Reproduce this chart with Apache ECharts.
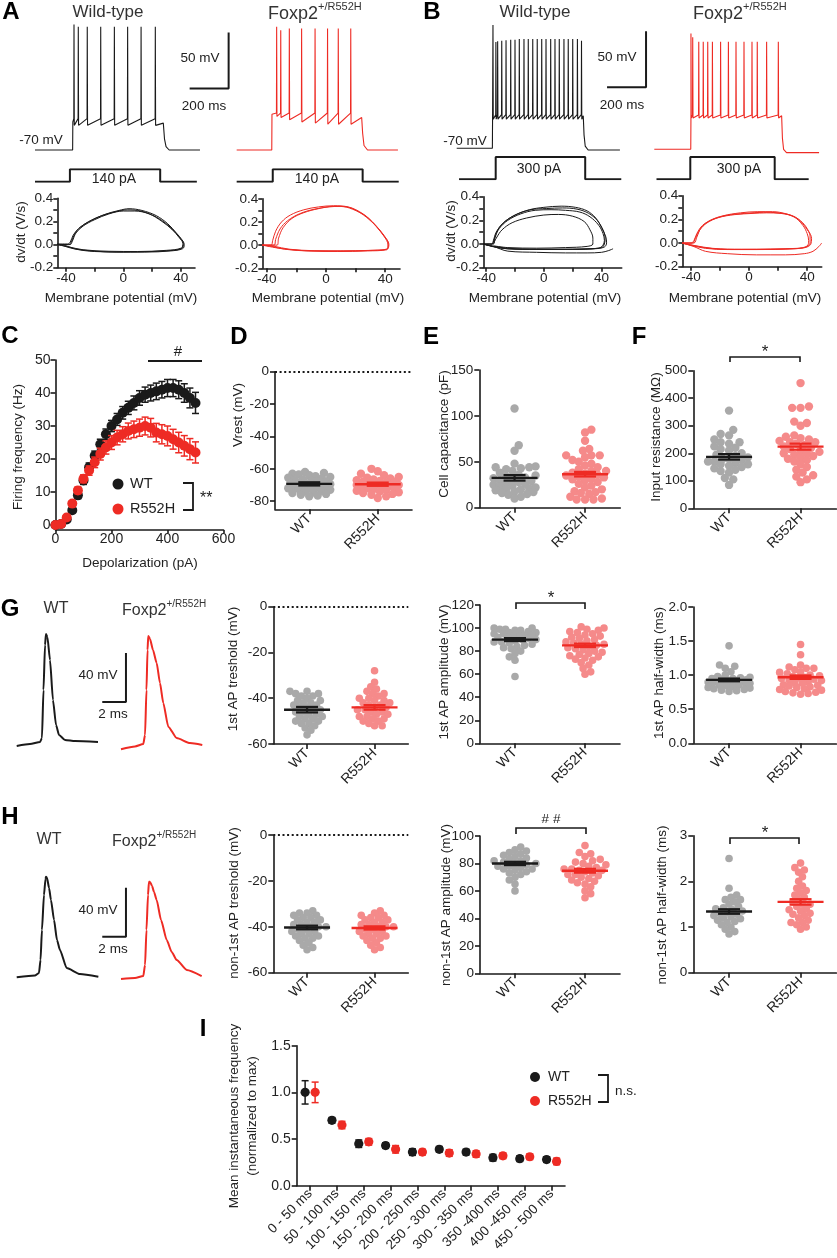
<!DOCTYPE html>
<html><head><meta charset="utf-8">
<script src="https://cdn.jsdelivr.net/npm/echarts@6/dist/echarts.min.js"></script>
<style>html,body{margin:0;padding:0;background:#fff}#c{width:837px;height:1258px}</style>
</head><body><div id="c"></div><script>
// ================= DATA =================
// A / B voltage traces (ms, mV)
const aWtSpikes = [200,222,268,337,407,475,544,617];
const aWtPeaks  = [42,40,40,40,40,40,40,40];
const aWtTroughs= [-48,-48,-48,-48,-48,-48,-48,-48];
const aRdSpikes = [210,231,275,338,407,471,526,590];
const aRdPeaks  = [40,37,38.5,38.5,38.5,38.5,38.5,38.5];
const aRdTroughs= [-40,-41,-43,-45,-46,-47,-47,-47];
const bWtSpikes = [186,201,210,231,253,277,299,321,345,367,390,413,436,458,482,504,526,550,572,595,619,640];
const bWtPeaks  = [40,25,25.5,26,26.5,27,27,27.5,27.5,27.5,27.5,27.5,27.5,27.5,27.5,27.5,27.5,27.5,27.5,27.5,27.5,26];
const bWtTroughs= [-44,-44,-44,-44,-44,-44,-44,-44,-44,-44,-44,-44,-44,-44,-44,-44,-44,-44,-44,-44,-44,-44];
const bRdSpikes = [188,197,228,251,274,298,340,380,419,460,501,528,576,636];
const bRdPeaks  = [33.5,30,26,26,26,26,26,26,26,26,26,26,26,26];
const bRdTroughs= [-42,-42,-42,-42,-42,-42,-42,-42,-42,-42,-42,-42,-42,-42];
// trace levels: [start, stepOn, stepOff, end, rest, plateau, preSpike, endLevel]
const aWtLevels = [0,193,658,846,-70,-45,-42,-46];
const aRdLevels = [5,185,646,832,-70,-38,-37,-41];
const bWtLevels = [0,183,649,837,-70,-40,-40,-41];
const bRdLevels = [0,187,653,845,-70,-39,-39.4,-40];
const aWtDecay = [[6,-60],[14,-67],[30,-70]];
const aRdDecay = [[5,-55],[12,-66],[30,-70]];
const bWtDecay = [[4,-58],[10,-68],[25,-71.5]];
const bRdDecay = [[4,-60],[10,-70],[25,-73]];
// current step: [start, on, off, end]
const aWtStim = [0,179,642,830];
const aRdStim = [5,190,651,836];
const bWtStim = [12,200,659,844];
const bRdStim = [12,197,659,845];
// phase plots [mV, V/s]
const aWtLoops = [
 [[-46,0.005],[-39,0.005],[-37,0.02],[-35,0.08],[-31,0.14],[-24,0.2],[-15,0.25],[-5,0.285],[3,0.3],[12,0.29],[22,0.245],[30,0.18],[36,0.11],[40,0.05],[42,0.01],[41,-0.03],[35,-0.05],[20,-0.06],[0,-0.065],[-20,-0.06],[-33,-0.04],[-40,-0.01],[-46,0.005]],
 [[-46,0],[-38,0],[-36,0.03],[-34,0.09],[-30,0.15],[-22,0.21],[-13,0.26],[-3,0.295],[4,0.31],[13,0.295],[23,0.25],[31,0.18],[37,0.1],[41,0.04],[42.5,0],[41.5,-0.035],[33,-0.055],[15,-0.065],[-5,-0.065],[-22,-0.055],[-35,-0.035],[-42,-0.01],[-46,0]],
 [[-46,0],[-37,0],[-35.5,0.03],[-33,0.1],[-28,0.16],[-20,0.215],[-10,0.265],[0,0.29],[8,0.29],[18,0.265],[27,0.2],[34,0.13],[39,0.06],[41.5,0.01],[40.5,-0.03],[30,-0.05],[10,-0.06],[-10,-0.058],[-28,-0.045],[-38,-0.02],[-46,0]]
];
const aRdLoops = [
 [[-43,0],[-37,0],[-36,0.04],[-34,0.12],[-30,0.2],[-24,0.26],[-15,0.305],[-5,0.33],[5,0.34],[15,0.33],[25,0.27],[33,0.18],[38,0.1],[41,0.04],[42,0],[41,-0.035],[30,-0.045],[10,-0.05],[-10,-0.05],[-28,-0.035],[-37,-0.01],[-43,0]],
 [[-43,0],[-35,0],[-34,0.05],[-31,0.14],[-26,0.21],[-18,0.27],[-8,0.31],[2,0.33],[10,0.335],[18,0.31],[27,0.25],[34,0.16],[39,0.08],[42,0.02],[41.5,-0.03],[32,-0.045],[12,-0.05],[-8,-0.048],[-25,-0.035],[-35,-0.01],[-43,0]],
 [[-43,0],[-33,0],[-32,0.06],[-29,0.15],[-23,0.23],[-15,0.28],[-5,0.315],[5,0.335],[14,0.33],[23,0.28],[31,0.2],[37,0.12],[41,0.05],[42.5,0.005],[41,-0.04],[28,-0.05],[8,-0.055],[-12,-0.05],[-30,-0.03],[-43,0]]
];
const bWtLoops = [
 [[-42,0],[-36,0],[-35,0.03],[-33,0.1],[-28,0.18],[-20,0.245],[-10,0.29],[0,0.31],[12,0.32],[22,0.31],[30,0.28],[36,0.22],[40,0.14],[43,0.06],[43.5,0.01],[42,-0.025],[35,-0.04],[15,-0.045],[-5,-0.045],[-25,-0.04],[-35,-0.02],[-42,0]],
 [[-42,0],[-36,0],[-34.5,0.04],[-32,0.12],[-27,0.19],[-19,0.25],[-9,0.29],[2,0.3],[13,0.305],[23,0.295],[31,0.26],[37,0.2],[41,0.12],[42.5,0.05],[42,0],[40,-0.03],[30,-0.04],[10,-0.045],[-10,-0.045],[-30,-0.035],[-42,0]],
 [[-42,0],[-35,0],[-34,0.05],[-31,0.13],[-25,0.2],[-16,0.255],[-6,0.285],[5,0.29],[15,0.285],[25,0.27],[32,0.23],[38,0.16],[41,0.09],[42,0.03],[41,-0.01],[38,-0.035],[20,-0.045],[0,-0.045],[-20,-0.04],[-35,-0.02],[-42,0]],
 [[-35,0],[-33,0.05],[-29,0.12],[-22,0.18],[-12,0.22],[0,0.245],[10,0.25],[20,0.235],[28,0.19],[32,0.12],[34,0.05],[34,0],[30,-0.02],[15,-0.03],[-5,-0.035],[-25,-0.03],[-35,-0.015]],
 [[-42,0],[-35,-0.02],[-25,-0.06],[-5,-0.07],[15,-0.075],[30,-0.075],[40,-0.07],[45,-0.055],[48,-0.04]]
];
const bRdLoops = [
 [[-46,0],[-40,0],[-38,0.02],[-36,0.08],[-32,0.15],[-25,0.2],[-15,0.235],[-3,0.25],[10,0.26],[20,0.255],[30,0.23],[37,0.17],[41,0.1],[43,0.04],[42.5,-0.01],[38,-0.04],[25,-0.05],[5,-0.055],[-15,-0.055],[-30,-0.045],[-40,-0.02],[-46,0]],
 [[-46,0],[-39,0],[-37,0.04],[-34,0.11],[-29,0.17],[-21,0.215],[-10,0.24],[2,0.25],[12,0.255],[22,0.25],[31,0.22],[37,0.15],[40,0.08],[41,0.02],[40,-0.025],[33,-0.045],[15,-0.05],[-5,-0.052],[-25,-0.045],[-38,-0.02],[-46,0]],
 [[-46,0],[-38,0],[-36,0.05],[-33,0.13],[-27,0.19],[-18,0.23],[-6,0.255],[6,0.265],[16,0.265],[26,0.245],[34,0.2],[39,0.13],[42,0.06],[42,0],[39,-0.035],[28,-0.05],[8,-0.055],[-12,-0.055],[-30,-0.04],[-46,0]],
 [[-46,0],[-38,-0.03],[-30,-0.07],[-15,-0.09],[5,-0.1],[25,-0.1],[38,-0.09],[44,-0.07],[48,-0.03],[50,0]]
];
// C: firing frequency
const cDepol = [0,20,40,60,80,100,120,140,160,180,200,220,240,260,280,300,320,340,360,380,400,420,440,460,480,500];
const cWt    = [0,0.3,1.7,4.5,9,13.5,17.5,21,24.5,27.5,30,32,34,35.5,37,38.5,39.5,40,40.5,41,41.5,41.5,41,40,38.5,37];
const cWtErr = [0,0.2,0.4,0.7,1,1.2,1.3,1.4,1.5,1.6,1.7,1.8,1.9,2,2.1,2.2,2.3,2.4,2.5,2.5,2.6,2.6,2.7,2.8,3,3.2];
const cRd    = [0,0.3,2.3,6.5,10.5,14,16.5,19,21.5,23.5,25,26.5,27.5,28.5,29,29.5,30,29.5,28,27.5,27,26,25,24,23,22];
const cRdErr = [0,0.2,0.5,0.8,1,1.2,1.4,1.6,1.8,2,2.1,2.2,2.3,2.4,2.5,2.6,2.7,2.8,2.8,2.9,3,3,3.1,3.1,3.2,3.2];
// individual cells
const groups = ['WT','R552H'];
const dWt = [-62,-62.5,-63,-63.5,-64,-64.5,-65,-65.5,-66,-66.5,-67,-67.5,-68,-68,-68.5,-69,-69,-69.5,-70,-70,-70.5,-71,-71,-71.5,-72,-72,-72.5,-73,-73.5,-74,-74.5,-75,-75.5,-76,-76.5,-77];
const dRd = [-60,-61.5,-63,-64,-65,-65.5,-66,-66.5,-67,-67.5,-68,-68,-68.5,-69,-69.5,-70,-70,-70.5,-71,-71.5,-72,-72,-72.5,-73,-73.5,-74,-74.5,-75,-75.5,-76,-77,-78];
const eWt = [108,68,62,48,45,44,44,43,42,40,38,36,35,34,33,32,31,30,29,28,27,26,25,24,23,22,21,20,20,19,18,17,16,15,14,12,10];
const eRd = [85,82,73,64,62,57,57,57,55,52,50,48,46,44,42,40,40,38,37,36,35,34,33,32,31,30,28,26,24,22,20,18,17,16,15,12,10,9,9,9];
const fWt = [355,285,270,265,250,240,240,235,225,220,215,210,200,195,190,185,180,180,175,170,170,165,160,160,155,150,145,140,135,130,110,105,85];
const fRd = [455,370,365,365,315,310,300,265,260,255,250,245,240,240,235,230,225,220,215,210,205,200,200,195,190,185,180,175,170,160,150,140,130,120,115,105,95];
const gThrWt = [-37,-37,-38,-38,-39,-39,-40,-41,-41,-42,-42,-43,-43,-44,-44,-45,-45,-46,-46,-47,-47,-48,-48,-49,-49,-50,-50,-51,-51,-52,-53,-54,-56];
const gThrRd = [-28,-33,-35,-36,-37,-38,-38,-39,-40,-40,-41,-41,-42,-42,-43,-43,-44,-44,-45,-45,-46,-46,-47,-47,-48,-48,-49,-49,-50,-50,-51,-52,-52];
const gAmpWt = [100,100,99,99,98,98,97,96,96,95,95,94,94,93,93,92,92,91,90,90,89,88,88,87,86,85,84,83,82,80,78,75,72,58];
const gAmpRd = [101,100,99,98,97,96,95,94,93,92,91,90,89,88,87,86,86,85,84,83,82,81,80,79,78,77,76,75,74,73,72,70,68,65,62,60];
const gHwWt = [1.43,1.15,1.13,1.1,1.05,1.0,0.98,0.97,0.96,0.95,0.95,0.94,0.93,0.92,0.92,0.91,0.9,0.9,0.89,0.88,0.88,0.87,0.86,0.85,0.85,0.84,0.83,0.82,0.81,0.8,0.79,0.78,0.77,0.76];
const gHwRd = [1.45,1.3,1.15,1.12,1.1,1.1,1.08,1.05,1.04,1.02,1.0,0.99,0.98,0.97,0.96,0.95,0.94,0.93,0.92,0.9,0.89,0.88,0.86,0.85,0.84,0.83,0.82,0.8,0.79,0.78,0.76,0.75,0.74,0.73,0.72];
const hThrWt = [-33,-34,-34,-35,-35,-36,-36,-37,-37,-38,-38,-39,-39,-40,-40,-40,-41,-41,-42,-42,-43,-43,-44,-44,-45,-45,-46,-47,-48,-49,-50];
const hThrRd = [-33,-34,-35,-35,-36,-36,-37,-37,-38,-38,-39,-39,-40,-40,-40,-41,-41,-42,-42,-43,-43,-44,-44,-45,-45,-46,-47,-48,-49,-50];
const hAmpWt = [92,90,89,88,87,86,85,84,83,82,82,81,80,80,79,78,78,77,76,76,75,74,73,72,70,68,65,60];
const hAmpRd = [93,88,87,85,83,82,81,80,79,78,77,76,76,75,75,74,73,72,72,71,70,69,68,67,66,65,63,60,58,55];
const hHwWt = [2.5,1.85,1.7,1.65,1.6,1.6,1.55,1.5,1.45,1.42,1.4,1.38,1.35,1.32,1.3,1.28,1.25,1.22,1.2,1.18,1.15,1.12,1.1,1.05,1.0,0.95,0.9,0.85];
const hHwRd = [2.4,2.3,2.25,2.2,2.1,2.0,1.9,1.85,1.8,1.75,1.7,1.65,1.6,1.55,1.5,1.5,1.45,1.4,1.38,1.35,1.3,1.28,1.25,1.2,1.15,1.1,1.1,1.05,1.0,0.95];
// mean, SEM [WT, R552H]
const dMean=[-69.3,-69.5], dSem=[1,1];
const eMean=[32.5,36.5], eSem=[3,2.5];
const fMean=[187,224], fSem=[10,11];
const gThrMean=[-45,-44], gThrSem=[1.2,1];
const gAmpMean=[90,85], gAmpSem=[1.3,1.5];
const gHwMean=[0.93,0.97], gHwSem=[0.02,0.025];
const hThrMean=[-40.3,-40.5], hThrSem=[0.8,0.7];
const hAmpMean=[80,74.7], hAmpSem=[1.2,1.4];
const hHwMean=[1.34,1.55], hHwSem=[0.05,0.06];
// G / H single action potentials [ms, mV]
const gWtAP = [[1.41,-60],[2.53,-58.4],[3.38,-56.7],[3.54,-53.5],[3.67,-14.3],[3.80,22.4],[3.88,31.4],[4.0,29],[4.22,10.2],[4.47,-22.4],[4.73,-42.9],[4.98,-51],[5.49,-55.1],[6.33,-56],[8.27,-56.7]];
const gRdAP = [[10.21,-62.7],[11.39,-60.4],[12.09,-58.4],[12.24,-51],[12.36,-14.3],[12.45,18.4],[12.51,29.8],[12.66,27.3],[12.91,18.4],[13.22,7.8],[13.5,-8.6],[13.78,-24.9],[14.2,-44.2],[14.91,-53.5],[16.03,-57.6],[17.07,-59.2]];
const hWtAP = [[1.41,-60.2],[2.95,-58.8],[3.29,-56.7],[3.42,-46.1],[3.54,-21.6],[3.71,6.9],[3.84,20],[3.88,21.9],[3.97,20.8],[4.14,12.7],[4.30,2.9],[4.56,-13.5],[4.81,-29.8],[5.06,-38],[5.63,-52.7],[6.75,-57.6],[8.30,-59.8]];
const hRdAP = [[10.21,-61.6],[11.39,-60.8],[12.09,-59.2],[12.24,-50.2],[12.36,-21.6],[12.49,6.9],[12.57,17.8],[12.66,17.6],[12.83,14.3],[13.0,9.4],[13.22,2.9],[13.59,-13.5],[14.07,-29.8],[14.49,-39.6],[14.91,-46.1],[15.76,-54.3],[17.02,-59.2]];
// I: instantaneous frequency
const iBins = ['0 - 50 ms','50 - 100 ms','100 - 150 ms','150 - 200 ms','200 - 250 ms','250 - 300 ms','300 - 350 ms','350 -400 ms','400 -450 ms','450 - 500 ms'];
const iWt    = [1.0,0.70,0.45,0.43,0.36,0.39,0.36,0.30,0.29,0.28];
const iWtErr = [0.125,0.03,0.04,0.03,0.035,0.03,0.03,0.035,0.03,0.03];
const iRd    = [1.0,0.65,0.47,0.39,0.36,0.35,0.34,0.32,0.31,0.26];
const iRdErr = [0.11,0.04,0.035,0.04,0.03,0.035,0.035,0.03,0.03,0.035];

// ================= STYLE / LAYOUT =================
const F = '"Liberation Sans", Arial, Helvetica, sans-serif';
const INK = '#1a1a1a', RED = '#ee2b24', GRAY = '#a9a9a9', PINK = '#f58a8a', TXT = '#222222';
const grids = [], xAxes = [], yAxes = [], series = [], G = [];
const axLine = {show:true, onZero:false, lineStyle:{color:INK, width:1.6}};
const axTick = (len) => ({show:true, inside:false, length:len||5, alignWithLabel:true, lineStyle:{color:INK, width:1.6}});
const lab = (fs, m) => ({color:TXT, fontFamily:F, fontSize:fs, margin:(m==null?6:m)});
function panel(r, xa, ya) {
  const i = grids.length;
  grids.push({left:r[0], top:r[1], width:r[2], height:r[3], containLabel:false});
  xAxes.push(Object.assign({gridIndex:i, splitLine:{show:false}}, xa));
  yAxes.push(Object.assign({gridIndex:i, splitLine:{show:false}}, ya));
  return i;
}
const hid = (min, max) => ({type:'value', min, max, show:false});
function lineS(gi, data, color, w, extra) {
  series.push(Object.assign({type:'line', xAxisIndex:gi, yAxisIndex:gi, data, symbol:'none', showSymbol:false,
    silent:true, lineStyle:{color, width:w}, z:5}, extra||{}));
}
function txt(x, y, text, o) {
  o = o || {};
  G.push({type:'text', x, y, rotation:o.rot||0, silent:true, z:100,
    style:{text, fill:o.color||TXT, font:(o.weight||'normal')+' '+(o.size||13.5)+'px '+F,
      align:o.align||'center', verticalAlign:o.va||'middle', rich:o.rich}});
}
function pl(points, w, color) { G.push({type:'polyline', silent:true, z:100, shape:{points}, style:{stroke:color||INK, lineWidth:w||1.7, fill:null}}); }
function dot(x, y, r, c) { G.push({type:'circle', silent:true, z:100, shape:{cx:x, cy:y, r}, style:{fill:c}}); }
function supTitle(x, y, size, sup) {
  txt(x, y, '{a|Foxp2}{b|+/R552H}', {align:'left', rich:{
    a:{fontSize:size, fontFamily:F, fill:'#333', lineHeight:size+4, verticalAlign:'bottom'},
    b:{fontSize:sup, fontFamily:F, fill:'#333', lineHeight:sup, verticalAlign:'top'}}});
}

// ---- spike trains ----
function train(lv, spikes, peaks, troughs, decay) {
  const [t0, on, off, t1, rest, plateau, pre, endLv] = lv;
  const pts = [[t0, rest], [on, rest], [on + 1, plateau]];
  spikes.forEach((t, k) => { pts.push([t - 1, pre], [t, peaks[k]], [t + 1.5, troughs[k]]); });
  pts.push([off, endLv]);
  decay.forEach(d => pts.push([off + d[0], d[1]]));
  pts.push([t1, decay[decay.length - 1][1]]);
  return pts;
}
function stim(s) { return [[s[0],0],[s[1],0],[s[1],1],[s[2],1],[s[2],0],[s[3],0]]; }
function tracePanel(left, top, xmax, lv, sp, pk, tr, dc, color, scale) {
  const gi = panel([left, top, xmax * 0.195, 145.6], hid(0, xmax), hid(-80, 50));
  lineS(gi, train(lv, sp, pk, tr, dc), color, 1.1);
  if (scale) lineS(gi, [[scale[0] - scale[2], scale[1]], [scale[0], scale[1]], [scale[0], scale[1] + scale[3]]], INK, 2);
}
function stimPanel(left, top, h, s) {
  const gi = panel([left, top, 195, h], hid(0, 1000), hid(0, 1));
  lineS(gi, stim(s), INK, 2);
}
// scale bar: [x, y, 200 ms, 50 mV]
tracePanel(35, 15.6, 1000, aWtLevels, aWtSpikes, aWtPeaks, aWtTroughs, aWtDecay, INK, [993, -15, 200, 50]);
tracePanel(235.7, 15.6, 1000, aRdLevels, aRdSpikes, aRdPeaks, aRdTroughs, aRdDecay, RED);
tracePanel(456.7, 13.9, 1000, bWtLevels, bWtSpikes, bWtPeaks, bWtTroughs, bWtDecay, INK, [971, -15.5, 200, 50]);
tracePanel(654.3, 14.9, 900, bRdLevels, bRdSpikes, bRdPeaks, bRdTroughs, bRdDecay, RED);
stimPanel(35, 169.3, 12.4, aWtStim);
stimPanel(235.7, 169.3, 12.4, aRdStim);
stimPanel(456.7, 157, 22.3, bWtStim);
stimPanel(654.3, 157, 22.3, bRdStim);

// ---- phase plots ----
function phasePanel(r, xmin, xmax, loops, color) {
  const gi = panel(r,
    {type:'value', min:xmin, max:xmax, axisLine:axLine,
     axisTick:Object.assign(axTick(4), {customValues:[-40,-20,0,20,40]}),
     axisLabel:Object.assign(lab(13.5, 4), {customValues:[-40,0,40]})},
    {type:'value', min:-0.2, max:0.4, interval:0.1, axisLine:axLine, axisTick:axTick(4),
     axisLabel:Object.assign(lab(13.5, 4), {formatter: v => (Math.round(v * 10) % 2 ? '' : v.toFixed(1))})});
  loops.forEach(L => lineS(gi, L, color, 1, {smooth:0.35}));
}
phasePanel([57.3, 198.3, 137.7, 69.4], -46, 50, aWtLoops, INK);
phasePanel([262.3, 198.8, 137.7, 69.5], -43, 50, aRdLoops, RED);
phasePanel([483.3, 196.7, 138.4, 71], -42, 54, bWtLoops, INK);
phasePanel([682.3, 195.7, 139.4, 71], -46, 50, bRdLoops, RED);

// ---- C ----
function errSeries(gi, xs, ys, es, color, dx, r, cap) {
  return {type:'custom', xAxisIndex:gi, yAxisIndex:gi, silent:true, z:4,
    data: xs.map((x, i) => [x, ys[i], es[i]]),
    renderItem(params, api) {
      const x = api.value(0), y = api.value(1), e = api.value(2);
      const p = api.coord([x, y]), hi = api.coord([x, y + e]), lo = api.coord([x, y - e]);
      const cx = p[0] + dx, st = {stroke:color, lineWidth:1.5};
      return {type:'group', children:[
        {type:'line', shape:{x1:cx, y1:hi[1], x2:cx, y2:lo[1]}, style:st},
        {type:'line', shape:{x1:cx - cap, y1:hi[1], x2:cx + cap, y2:hi[1]}, style:st},
        {type:'line', shape:{x1:cx - cap, y1:lo[1], x2:cx + cap, y2:lo[1]}, style:st},
        {type:'circle', shape:{cx, cy:p[1], r}, style:{fill:color}}]};
    }};
}
{
  const gi = panel([55.5, 360, 168, 170],
    {type:'value', min:0, max:600, interval:200, axisLine:axLine, axisTick:axTick(3), axisLabel:lab(14, 2)},
    {type:'value', min:-1.5, max:50, axisLine:axLine,
     axisTick:Object.assign(axTick(5), {customValues:[0,10,20,30,40,50]}),
     axisLabel:Object.assign(lab(14, 5), {customValues:[0,10,20,30,40,50]})});
  series.push(errSeries(gi, cDepol, cWt, cWtErr, INK, 0, 5, 3.5));
  series.push(errSeries(gi, cDepol, cRd, cRdErr, RED, 0, 5, 3.5));
}

// ---- scatter (dot) panels ----
function swarm(ys, r, maxOff) {
  const order = ys.map((y, i) => i).sort((a, b) => ys[b] - ys[a]);
  const placed = [], off = new Array(ys.length).fill(0), d = r * 1.55, step = r * 0.5;
  order.forEach((i, k) => {
    const y = ys[i];
    let best = 0, bestD = -1;
    for (let m = 0; m * step <= maxOff; m++) {
      const cands = m === 0 ? [0] : (k % 2 ? [m * step, -m * step] : [-m * step, m * step]);
      for (const x of cands) {
        let md = Infinity;
        for (const p of placed) { const dd = Math.hypot(p[0] - x, p[1] - y); if (dd < md) md = dd; }
        if (md >= d) { off[i] = x; placed.push([x, y]); return; }
        if (md > bestD) { bestD = md; best = x; }
      }
    }
    off[i] = best; placed.push([best, y]);
  });
  return off;
}
function swarmSeries(gi, vals, r) {
  const data = [];
  vals.forEach((vs, ci) => vs.forEach(v => data.push([ci, v])));
  const cols = [GRAY, PINK];
  let offs = null;
  return {type:'custom', xAxisIndex:gi, yAxisIndex:gi, silent:true, z:2, data,
    renderItem(params, api) {
      if (!offs) {
        offs = new Array(data.length).fill(0);
        [0, 1].forEach(ci => {
          const ids = data.map((d, i) => i).filter(i => data[i][0] === ci);
          const o = swarm(ids.map(i => api.coord([ci, data[i][1]])[1]), r, 21);
          ids.forEach((id, k) => { offs[id] = o[k]; });
        });
      }
      const ci = data[params.dataIndex][0];
      const p = api.coord([ci, data[params.dataIndex][1]]);
      return {type:'circle', shape:{cx:p[0] + offs[params.dataIndex], cy:p[1], r}, style:{fill:cols[ci]}};
    }};
}
function meanSeries(gi, means, sems, zero) {
  const cols = [INK, RED];
  const s = {type:'custom', xAxisIndex:gi, yAxisIndex:gi, silent:true, z:3,
    data: means.map((m, i) => [i, m, sems[i]]),
    renderItem(params, api) {
      const ci = params.dataIndex, m = means[ci], e = sems[ci];
      const p = api.coord([ci, m]), hi = api.coord([ci, m + e]), lo = api.coord([ci, m - e]);
      const c = cols[ci], st = {stroke:c, lineWidth:2.2};
      return {type:'group', children:[
        {type:'line', shape:{x1:p[0] - 23, y1:p[1], x2:p[0] + 23, y2:p[1]}, style:{stroke:c, lineWidth:2.4}},
        {type:'line', shape:{x1:p[0], y1:hi[1], x2:p[0], y2:lo[1]}, style:st},
        {type:'line', shape:{x1:p[0] - 11, y1:hi[1], x2:p[0] + 11, y2:hi[1]}, style:st},
        {type:'line', shape:{x1:p[0] - 11, y1:lo[1], x2:p[0] + 11, y2:lo[1]}, style:st}]};
    }};
  if (zero) s.markLine = {symbol:'none', silent:true, animation:false, label:{show:false},
    lineStyle:{type:[2, 2.6], width:2.2, color:INK, cap:'butt'}, data:[{yAxis:0}]};
  return s;
}
function dotPanel(r, yax, vals, means, sems, rad, zero) {
  const gi = panel(r,
    {type:'category', data:groups, boundaryGap:true, axisLine:axLine, axisTick:axTick(5),
     axisLabel:Object.assign(lab(14, 7), {rotate:45, interval:0})},
    Object.assign({type:'value', axisLine:axLine, axisTick:axTick(5), axisLabel:lab(13.5, 6)}, yax));
  series.push(swarmSeries(gi, vals, rad));
  series.push(meanSeries(gi, means, sems, zero));
}
const ticksCV = (arr) => ({axisTick:Object.assign(axTick(5), {customValues:arr}), axisLabel:Object.assign(lab(13.5, 6), {customValues:arr})});
dotPanel([275, 371.7, 137, 137.6], Object.assign({min:-85, max:0}, ticksCV([-80,-60,-40,-20,0])), [dWt, dRd], dMean, dSem, 4.2, true);
dotPanel([479.3, 370, 141, 137.7], {min:0, max:150, interval:50}, [eWt, eRd], eMean, eSem, 4.2);
dotPanel([693.3, 370.7, 143, 137.6], {min:0, max:500, interval:100}, [fWt, fRd], fMean, fSem, 4.2);
dotPanel([273.3, 606.7, 135, 137.3], {min:-60, max:0, interval:20}, [gThrWt, gThrRd], gThrMean, gThrSem, 3.8, true);
dotPanel([480, 605, 140, 138.3], {min:0, max:120, interval:20}, [gAmpWt, gAmpRd], gAmpMean, gAmpSem, 3.8);
dotPanel([693.3, 607, 143, 136.3], {min:0, max:2, interval:0.5, axisLabel:Object.assign(lab(13.5, 6), {formatter:v => v.toFixed(1)})}, [gHwWt, gHwRd], gHwMean, gHwSem, 3.8);
dotPanel([273.3, 835, 135, 137.7], {min:-60, max:0, interval:20}, [hThrWt, hThrRd], hThrMean, hThrSem, 3.8, true);
dotPanel([480, 836, 140, 137.3], {min:0, max:100, interval:20}, [hAmpWt, hAmpRd], hAmpMean, hAmpSem, 3.8);
dotPanel([693.3, 835.7, 143, 137], {min:0, max:3, interval:1}, [hHwWt, hHwRd], hHwMean, hHwSem, 3.8);

// ---- G / H action potentials ----
function apPanel(top, wt, rd, scale) {
  const gi = panel([0, top, 18 * 11.85, 134.75], hid(0, 18), hid(-70, 40));
  lineS(gi, wt, INK, 2, {smooth:0.2, smoothMonotone:'x'});
  lineS(gi, rd, RED, 2, {smooth:0.2, smoothMonotone:'x'});
  lineS(gi, [[scale[0] - scale[2], scale[1]], [scale[0], scale[1]], [scale[0], scale[1] + scale[3]]], INK, 2);
}
apPanel(623.5, gWtAP, gRdAP, [10.63, -24.1, 2, 40]);
apPanel(854.5, hWtAP, hRdAP, [10.63, -27.1, 2, 40]);

// ---- I ----
{
  const gi = panel([296.7, 1045.7, 268.3, 140],
    {type:'category', data:iBins, boundaryGap:true, axisLine:axLine, axisTick:axTick(5),
     axisLabel:Object.assign(lab(13.5, 6), {rotate:45, interval:0})},
    {type:'value', min:0, max:1.5, interval:0.5, axisLine:axLine, axisTick:axTick(5),
     axisLabel:Object.assign(lab(14, 6), {formatter:v => v.toFixed(1)})});
  const idx = iBins.map((b, i) => i);
  series.push(errSeries(gi, idx, iWt, iWtErr, INK, -5, 4.6, 3.5));
  series.push(errSeries(gi, idx, iRd, iRdErr, RED, 5, 4.6, 3.5));
}

// ================= TEXT / ANNOTATIONS =================
const B = {weight:'bold', size:24, color:'#000'};
txt(11, 12, 'A', B); txt(432, 12, 'B', B); txt(10, 336, 'C', B); txt(239, 337, 'D', B);
txt(431, 337, 'E', B); txt(639, 337, 'F', B); txt(10, 609, 'G', B); txt(10, 817, 'H', B); txt(203, 1029, 'I', B);
txt(108, 12, 'Wild-type', {size:17, color:'#333'});
txt(535, 12, 'Wild-type', {size:17, color:'#333'});
supTitle(268, 12, 18, 11);
supTitle(693, 12, 18, 11);
txt(41, 140, '-70 mV'); txt(465, 141, '-70 mV');
txt(200, 58, '50 mV'); txt(204, 106, '200 ms');
txt(617, 57, '50 mV'); txt(622, 105, '200 ms');
txt(114, 179, '140 pA', {size:14}); txt(317, 179, '140 pA', {size:14});
txt(539, 169, '300 pA', {size:14}); txt(739, 169, '300 pA', {size:14});
['Membrane potential (mV)'].forEach(t => { txt(121, 298, t); txt(328, 298, t); txt(545, 298, t); txt(745, 298, t); });
txt(21, 232, 'dv/dt (V/s)', {rot:Math.PI / 2}); txt(451, 231, 'dv/dt (V/s)', {rot:Math.PI / 2});
// C
txt(18, 447, 'Firing frequency (Hz)', {rot:Math.PI / 2});
txt(140, 563, 'Depolarization (pA)');
pl([[148, 361], [202, 361]], 1.8); txt(178, 352, '#', {size:15});
dot(118, 484, 5.5, INK); dot(118, 509, 5.5, RED);
txt(130, 484, 'WT', {align:'left', size:14.5}); txt(130, 509, 'R552H', {align:'left', size:14.5});
pl([[183, 483], [193, 483], [193, 510], [183, 510]], 1.8); txt(200, 499, '**', {align:'left', size:16});
// axis titles for dot panels
const R90 = Math.PI / 2;
txt(238, 415, 'Vrest (mV)', {rot:R90});
txt(444, 434, 'Cell capacitance (pF)', {rot:R90});
txt(656, 437, 'Input resistance (MΩ)', {rot:R90});
txt(233, 669, '1st AP treshold (mV)', {rot:R90});
txt(444, 672, '1st AP amplitude (mV)', {rot:R90});
txt(659, 673, '1st AP half-width (ms)', {rot:R90});
txt(234, 903, 'non-1st AP treshold (mV)', {rot:R90});
txt(446, 905, 'non-1st AP amplitude (mV)', {rot:R90});
txt(662, 905, 'non-1st AP half-width (ms)', {rot:R90});
// brackets
pl([[730, 362], [730, 357], [800, 357], [800, 362]], 1.6); txt(765, 352, '*', {size:17});
pl([[516, 609], [516, 603], [585, 603], [585, 609]], 1.6); txt(551, 598, '*', {size:17});
pl([[516, 834], [516, 828], [586, 828], [586, 834]], 1.6); txt(551, 819, '# #', {size:13.5});
pl([[730, 844], [730, 838], [799, 838], [799, 844]], 1.6); txt(765, 833, '*', {size:17});
// G/H traces labels
txt(56, 609, 'WT', {size:16, color:'#333'}); supTitle(122, 609, 16, 10);
txt(49, 840, 'WT', {size:16, color:'#333'}); supTitle(112, 840, 16, 10);
txt(98, 675, '40 mV'); txt(113, 714, '2 ms');
txt(98, 910, '40 mV'); txt(113, 949, '2 ms');
// I
txt(234, 1116, 'Mean instantaneous frequency', {rot:R90});
txt(252, 1116, '(normalized to max)', {rot:R90});
dot(535, 1077, 5, INK); dot(535, 1101, 5, RED);
txt(548, 1077, 'WT', {align:'left', size:14}); txt(548, 1101, 'R552H', {align:'left', size:14});
pl([[598, 1075], [608, 1075], [608, 1102], [598, 1102]], 1.8); txt(615, 1091, 'n.s.', {align:'left', size:13.5});

const chart = echarts.init(document.getElementById('c'), null, {renderer:'canvas', width:837, height:1258});
chart.setOption({
  animation:false, backgroundColor:'#ffffff',
  textStyle:{fontFamily:F},
  grid:grids, xAxis:xAxes, yAxis:yAxes, series, graphic:{elements:G}
});
</script></body></html>
